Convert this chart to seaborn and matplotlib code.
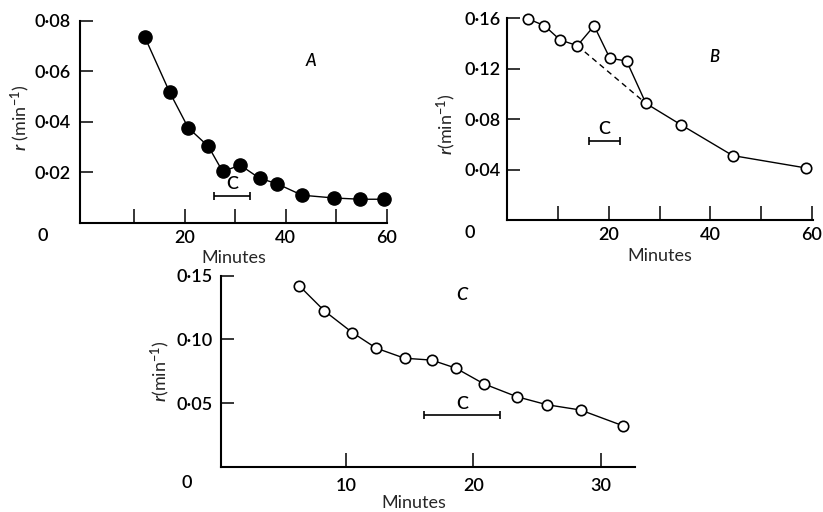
import numpy as np
import pandas as pd
import matplotlib
matplotlib.use('Agg')
import matplotlib.pyplot as plt
import seaborn as sns

# ---------------- data ----------------
# Panel A (filled circles)
a_min = [12.1, 17.0, 20.7, 24.7, 27.5, 31.0, 34.8, 38.2, 43.2, 49.5, 54.7, 59.4]
a_r = [0.0736, 0.0518, 0.0376, 0.0302, 0.0203, 0.0228, 0.0176, 0.0155,
       0.0109, 0.0098, 0.0093, 0.0093]
# Panel B (open circles)
b_min = [4.1, 7.3, 10.4, 13.8, 17.1, 20.2, 23.5, 27.3, 34.3, 44.4, 58.8]
b_r = [0.1595, 0.1542, 0.1428, 0.1383, 0.1540, 0.1283, 0.1261, 0.0925,
       0.0753, 0.0511, 0.0413]
b_dash_idx = [3, 7]          # dashed line joins these two points
# Panel C (open circles)
c_min = [6.34, 8.33, 10.52, 12.38, 14.6, 16.74, 18.62, 20.81, 23.39, 25.74, 28.4, 31.7]
c_r = [0.1422, 0.1223, 0.1053, 0.0931, 0.0852, 0.0837, 0.0774, 0.0651,
       0.0550, 0.0487, 0.0445, 0.0322]

# "C" bars: (start, end, level)
cbar_a = (25.7, 33.0, 0.0107)
cbar_b = (16.1, 22.1, 0.0628)
cbar_c = (16.1, 22.1, 0.0403)

# tick values / labels
a_xticks = [10, 20, 30, 40, 50, 60]
a_xlabels = ['', '20', '', '40', '', '60']
a_yticks = [0.02, 0.04, 0.06, 0.08]
a_ylabels = ['0·02', '0·04', '0·06', '0·08']
b_xticks = [10, 20, 30, 40, 50, 60]
b_xlabels = ['', '20', '', '40', '', '60']
b_yticks = [0.04, 0.08, 0.12, 0.16]
b_ylabels = ['0·04', '0·08', '0·12', '0·16']
c_xticks = [10, 20, 30]
c_xlabels = ['10', '20', '30']
c_yticks = [0.05, 0.10, 0.15]
c_ylabels = ['0·05', '0·10', '0·15']

# ---------------- style ----------------
sns.set_style('ticks')
plt.rcParams['font.family'] = ['Lato', 'DejaVu Sans']
plt.rcParams['font.weight'] = 'semibold'
plt.rcParams['mathtext.fontset'] = 'custom'
plt.rcParams['mathtext.rm'] = 'Lato:semibold'
plt.rcParams['mathtext.it'] = 'Lato:italic:semibold'
plt.rcParams['text.color'] = 'black'

FS = 13
fig = plt.figure(figsize=(8.23, 5.12), dpi=100)
axA = fig.add_axes([0.0972, 0.565, 0.373, 0.3945])
axB = fig.add_axes([0.6164, 0.5703, 0.3714, 0.394])
axC = fig.add_axes([0.2682, 0.0885, 0.5034, 0.373])


def style_axis(ax, xt, xl, yt, yl, xpad, ypad):
    for s in ['top', 'right']:
        ax.spines[s].set_visible(False)
    for s in ['left', 'bottom']:
        ax.spines[s].set_linewidth(1.5)
        ax.spines[s].set_color('black')
    ax.set_xticks(xt)
    ax.set_xticklabels(xl)
    ax.set_yticks(yt)
    ax.set_yticklabels(yl)
    ax.tick_params(axis='x', direction='in', length=10, width=1.1,
                   pad=xpad, labelsize=FS, colors='black')
    ax.tick_params(axis='y', direction='in', length=9, width=1.1,
                   pad=ypad, labelsize=FS, colors='black')
    ax.set_facecolor('white')
    ax.grid(False)


def cbar(ax, spec):
    s, e, lvl = spec
    ax.errorbar(x=[(s + e) / 2], y=[lvl], xerr=[[(e - s) / 2]], fmt='none',
                ecolor='black', elinewidth=1.2, capsize=3, capthick=1.2)
    ax.annotate('C', xy=((s + e) / 2, lvl), xytext=(0, 2.5),
                textcoords='offset points', ha='center', va='bottom',
                fontsize=FS)


def finish_lines(ax):
    for ln in ax.get_lines():
        ln.set_clip_on(False)


# ---- Panel A ----
dfA = pd.DataFrame({'Minutes': a_min, 'r': a_r})
sns.lineplot(data=dfA, x='Minutes', y='r', ax=axA, color='black', lw=1.0,
             marker='o', markersize=9.5, markerfacecolor='black',
             markeredgecolor='black', markeredgewidth=1, estimator=None,
             sort=False)
cbar(axA, cbar_a)
axA.set_xlim(-0.7, 60)
axA.set_ylim(0, 0.08)
style_axis(axA, a_xticks, a_xlabels, a_yticks, a_ylabels, 5, 7)
axA.set_xlabel('Minutes', fontsize=FS)
axA.set_ylabel('$r$ (min$^{-1}$)', fontsize=FS)
axA.xaxis.set_label_coords(0.5, -0.135)
axA.yaxis.set_label_coords(-0.156, 0.518)
axA.text(-0.12, -0.065, '0', transform=axA.transAxes, ha='center', va='center',
         fontsize=FS)
axA.text(45.0, 0.064, 'A', ha='center', va='center', fontsize=12, style='italic')
finish_lines(axA)

# ---- Panel B ----
dfB = pd.DataFrame({'Minutes': b_min, 'r': b_r})
dfBd = dfB.iloc[b_dash_idx]
sns.lineplot(data=dfBd, x='Minutes', y='r', ax=axB, color='black', lw=1.0,
             linestyle=(0, (4, 3)), estimator=None, sort=False, zorder=1)
sns.lineplot(data=dfB, x='Minutes', y='r', ax=axB, color='black', lw=1.0,
             marker='o', markersize=7.5, markerfacecolor='white',
             markeredgecolor='black', markeredgewidth=1.2, estimator=None,
             sort=False, zorder=2)
cbar(axB, cbar_b)
axB.set_xlim(0, 60.2)
axB.set_ylim(0, 0.16)
style_axis(axB, b_xticks, b_xlabels, b_yticks, b_ylabels, 5, 5)
axB.set_xlabel('Minutes', fontsize=FS)
axB.set_ylabel('$r$(min$^{-1}$)', fontsize=FS)
axB.xaxis.set_label_coords(0.5, -0.139)
axB.yaxis.set_label_coords(-0.161, 0.476)
axB.text(-0.122, -0.064, '0', transform=axB.transAxes, ha='center',
         va='center', fontsize=FS)
axB.text(40.7, 0.129, 'B', ha='center', va='center', fontsize=12, style='italic')
finish_lines(axB)

# ---- Panel C ----
dfC = pd.DataFrame({'Minutes': c_min, 'r': c_r})
sns.lineplot(data=dfC, x='Minutes', y='r', ax=axC, color='black', lw=1.0,
             marker='o', markersize=7.5, markerfacecolor='white',
             markeredgecolor='black', markeredgewidth=1.2, estimator=None,
             sort=False)
cbar(axC, cbar_c)
axC.set_xlim(0.2, 32.66)
axC.set_ylim(0, 0.15)
style_axis(axC, c_xticks, c_xlabels, c_yticks, c_ylabels, 8, 6)
axC.set_xlabel('Minutes', fontsize=FS)
axC.set_ylabel('$r$(min$^{-1}$)', fontsize=FS)
axC.xaxis.set_label_coords(0.467, -0.15)
axC.yaxis.set_label_coords(-0.1175, 0.50)
axC.text(-0.082, -0.084, '0', transform=axC.transAxes, ha='center',
         va='center', fontsize=FS)
axC.text(19.1, 0.1348, 'C', ha='center', va='center', fontsize=13,
         style='italic')
finish_lines(axC)

for ax in (axA, axB, axC):
    leg = ax.get_legend()
    if leg is not None:
        leg.remove()

fig.savefig('out.png', dpi=100, facecolor='white')
